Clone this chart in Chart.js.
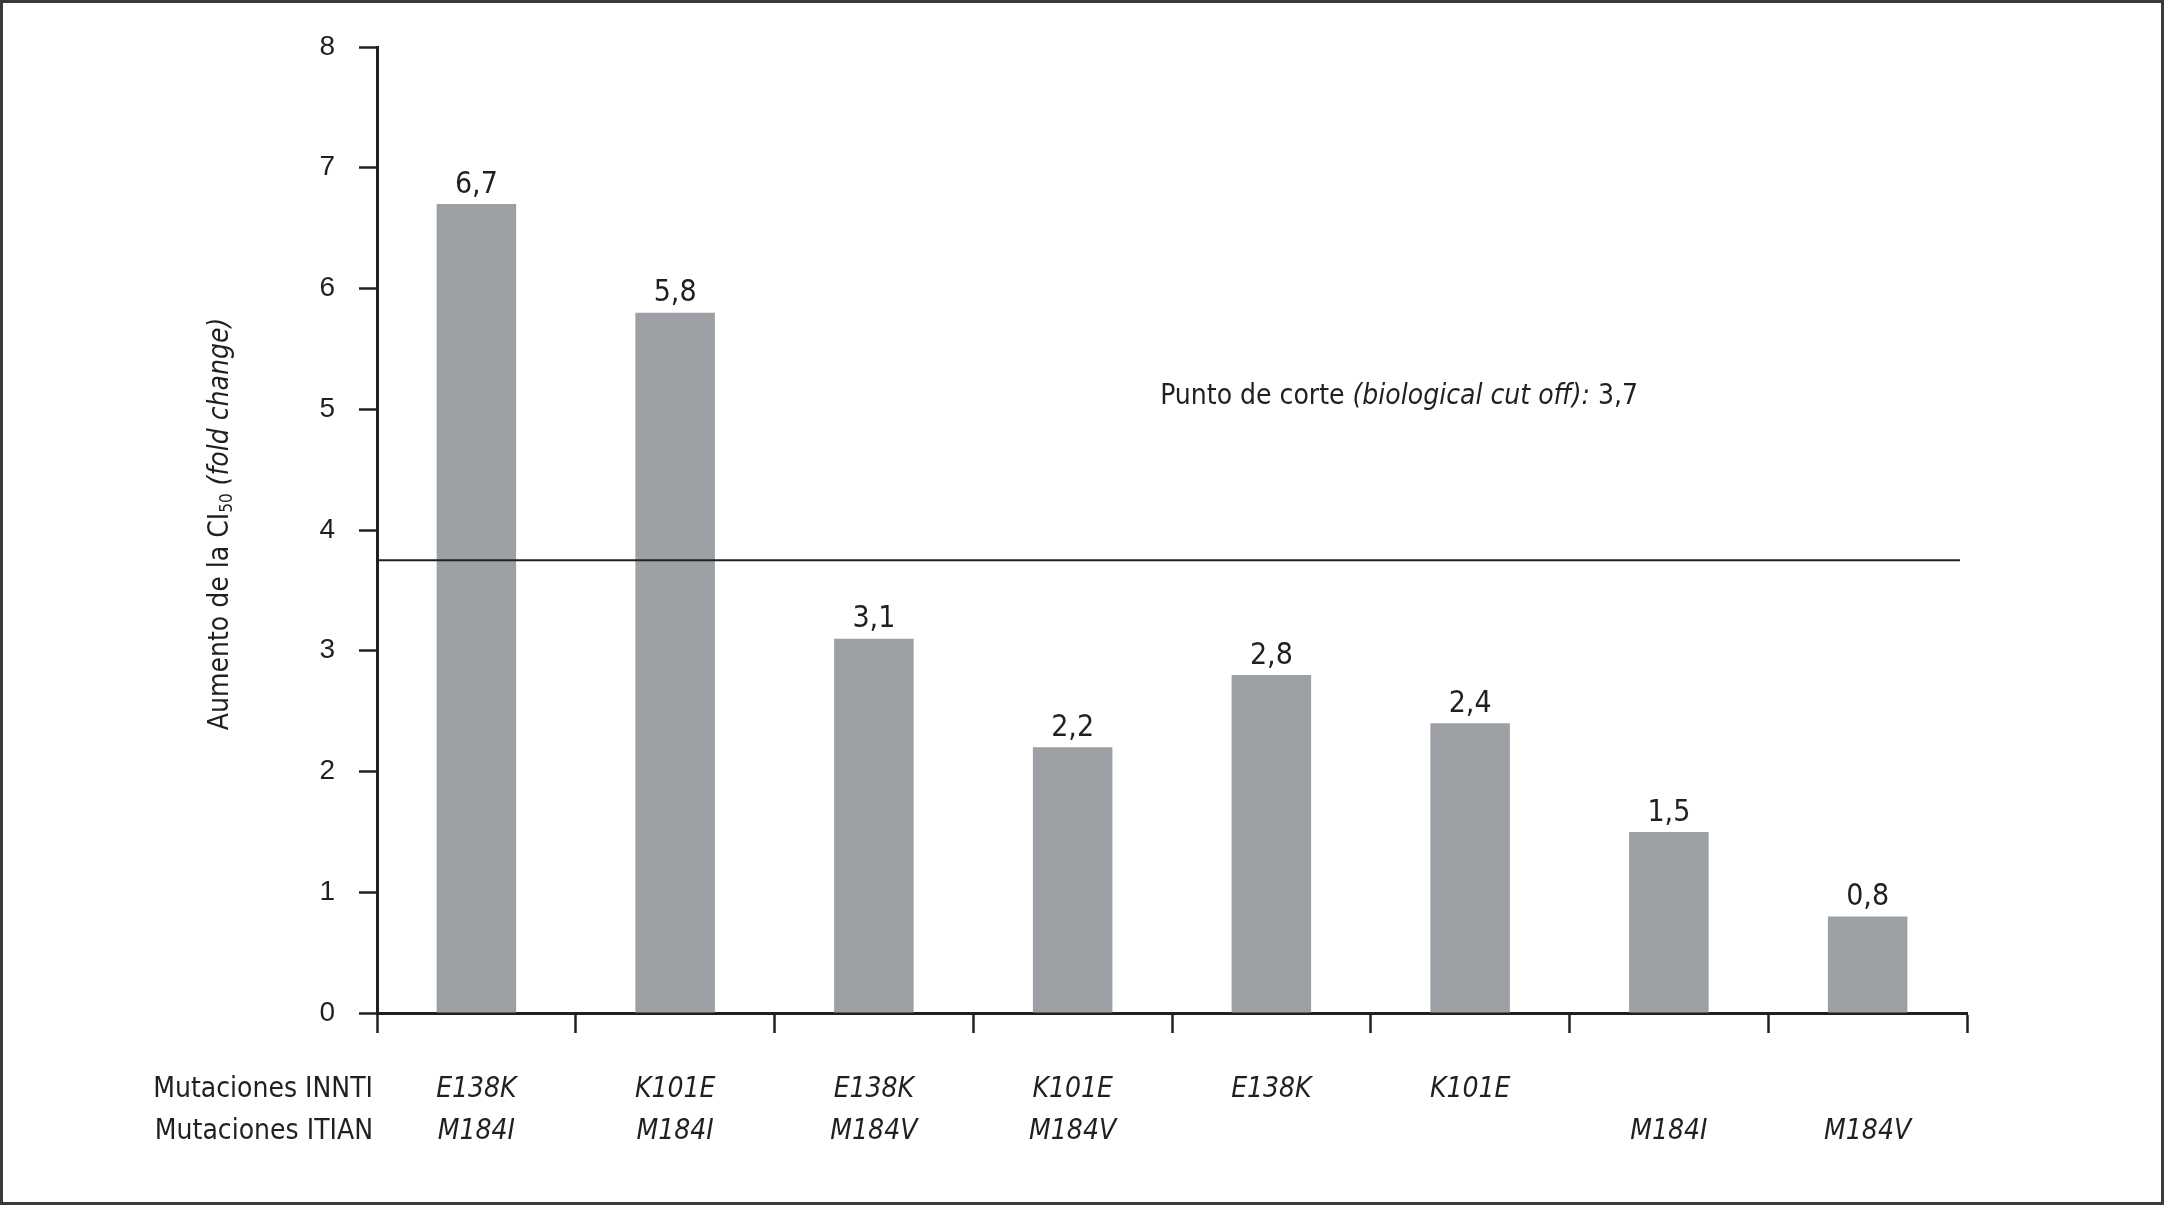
<!DOCTYPE html>
<html>
<head>
<meta charset="utf-8">
<script src="https://cdn.jsdelivr.net/npm/chart.js@4.4.1/dist/chart.umd.min.js"></script>
<style>
  html, body { margin: 0; padding: 0; background: #fff; }
  #wrap { width: 2164px; height: 1205px; }
</style>
</head>
<body>
<div id="wrap"><canvas id="chart"></canvas></div>
<script>
// data
const mutInnti = ['E138K', 'K101E', 'E138K', 'K101E', 'E138K', 'K101E', '', ''];
const mutItian = ['M184I', 'M184I', 'M184V', 'M184V', '', '', 'M184I', 'M184V'];
const foldChange = [6.7, 5.8, 3.1, 2.2, 2.8, 2.4, 1.5, 0.8];
const yTicks = [0, 1, 2, 3, 4, 5, 6, 7, 8];
const rowHeaders = ['Mutaciones INNTI', 'Mutaciones ITIAN'];
const cutoffValue = 3.75;
const cutoffText = ['Punto de corte ', '(biological cut off):', ' 3,7'];
const yTitle = ['Aumento de la CI', '50', ' (fold change)'];

const NARROW = "'Liberation Sans Narrow', 'Arial Narrow', 'DejaVu Sans Condensed', sans-serif";
const INK = '#231f20';

const labels = mutInnti.map((m, i) => [mutInnti[i], mutItian[i]]);

const extras = {
  id: 'extras',
  beforeDraw(chart) {
    const c = chart.ctx;
    c.save();
    c.fillStyle = '#fff';
    c.fillRect(0, 0, chart.width, chart.height);
    c.restore();
  },
  afterDatasetsDraw(chart) {
    const c = chart.ctx;
    const x = chart.scales.x, y = chart.scales.y;
    const area = chart.chartArea;
    c.save();
    // cut-off line
    const cy = y.getPixelForValue(cutoffValue);
    c.strokeStyle = INK;
    c.lineWidth = 2;
    c.beginPath();
    c.moveTo(area.left, cy);
    c.lineTo(area.right - 7, cy);
    c.stroke();

    // value labels
    c.fillStyle = INK;
    c.font = '30px ' + NARROW;
    c.textAlign = 'center';
    c.textBaseline = 'middle';
    chart.getDatasetMeta(0).data.forEach((bar, i) => {
      c.fillText(foldChange[i].toFixed(1).replace('.', ','), bar.x, bar.y - 19);
    });

    // cut-off label, mixed upright / italic
    let tx = x.getPixelForValue(3.4) + 8;
    const ty = y.getPixelForValue(5.1);
    c.textAlign = 'left';
    const fonts = ['28px ' + NARROW, 'italic 28px ' + NARROW, '28px ' + NARROW];
    cutoffText.forEach((t, i) => {
      c.font = fonts[i];
      c.fillText(t, tx, ty);
      tx += c.measureText(t).width;
    });

    // row headers for the mutation rows
    c.font = '28px ' + NARROW;
    c.textAlign = 'right';
    rowHeaders.forEach((t, i) => {
      c.fillText(t, area.left - 4, area.bottom + 77 + i * 42);
    });

    // y axis title, rotated, with subscript
    c.translate(221, (area.top + area.bottom) / 2 - 6);
    c.rotate(-Math.PI / 2);
    const parts = [
      { t: yTitle[0], f: '28px ' + NARROW, dy: 0 },
      { t: yTitle[1], f: '17px ' + NARROW, dy: 7 },
      { t: yTitle[2], f: 'italic 28px ' + NARROW, dy: 0 }
    ];
    let total = 0;
    parts.forEach(p => { c.font = p.f; total += c.measureText(p.t).width; });
    let px = -total / 2;
    c.textAlign = 'left';
    parts.forEach(p => {
      c.font = p.f;
      c.fillText(p.t, px, p.dy);
      px += c.measureText(p.t).width;
    });
    c.restore();
  },
  afterDraw(chart) {
    const c = chart.ctx;
    c.save();
    c.strokeStyle = '#3a3a3a';
    c.lineWidth = 3;
    c.strokeRect(1.5, 1.5, chart.width - 3, chart.height - 3);
    c.restore();
  }
};

new Chart(document.getElementById('chart'), {
  type: 'bar',
  data: {
    labels: labels,
    datasets: [{
      data: foldChange,
      backgroundColor: '#9c9fa3',
      borderWidth: 0,
      barPercentage: 0.4,
      categoryPercentage: 1.0
    }]
  },
  options: {
    responsive: true,
    maintainAspectRatio: false,
    animation: false,
    layout: { padding: { top: 47, right: 197, bottom: 0, left: 0 } },
    plugins: {
      legend: { display: false },
      tooltip: { enabled: false }
    },
    scales: {
      x: {
        grid: {
          display: true,
          drawOnChartArea: false,
          drawTicks: true,
          tickLength: 20,
          tickColor: INK,
          tickWidth: 2.5,
          offset: true
        },
        border: { display: true, color: INK, width: 3 },
        ticks: {
          color: INK,
          font: { family: NARROW, size: 28, style: 'italic', lineHeight: 1.5 },
          padding: 36,
          maxRotation: 0,
          autoSkip: false
        },
        afterFit(scale) { scale.height = 1205 - 1013; }
      },
      y: {
        min: 0,
        max: 8,
        afterBuildTicks(scale) { scale.ticks = yTicks.map(v => ({ value: v })); },
        grid: {
          display: true,
          drawOnChartArea: false,
          drawTicks: true,
          tickLength: 18,
          tickColor: INK,
          tickWidth: 2.5
        },
        border: { display: true, color: INK, width: 3 },
        ticks: {
          color: INK,
          font: { family: "'Liberation Sans', Arial, sans-serif", size: 28 },
          padding: 24
        },
        afterFit(scale) { scale.width = 377; }
      }
    }
  },
  plugins: [extras]
});
</script>
</body>
</html>
